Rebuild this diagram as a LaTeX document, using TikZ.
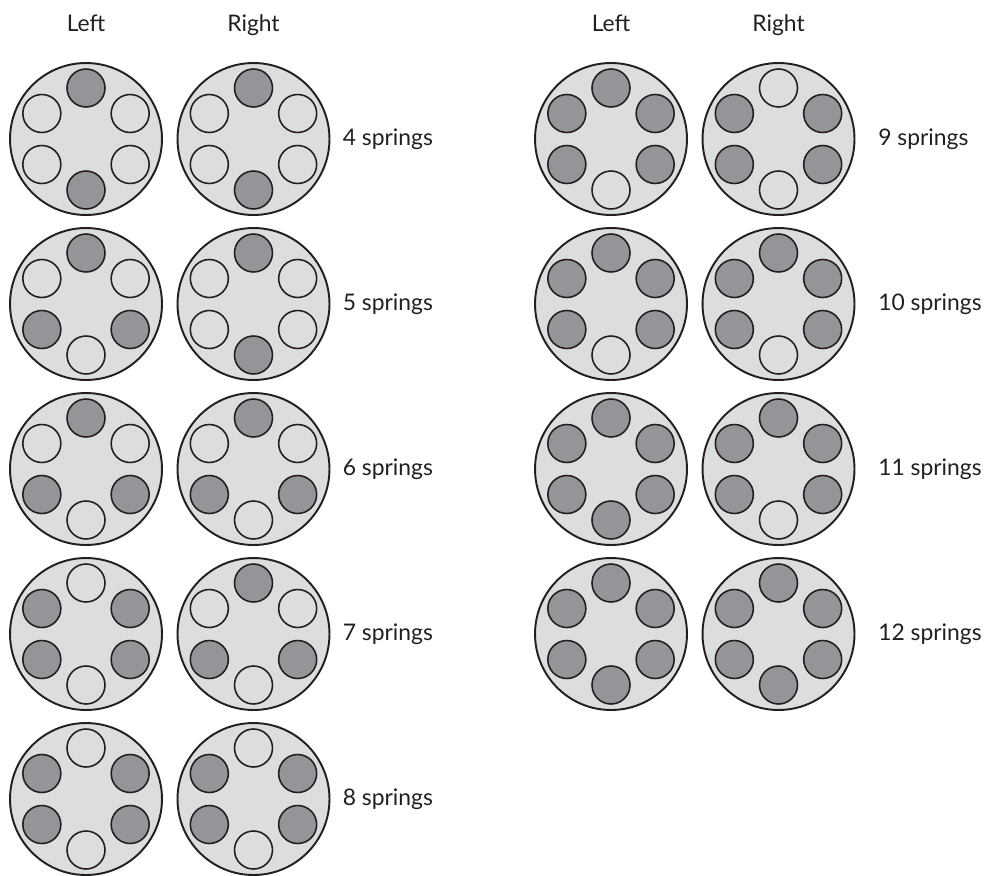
\documentclass[tikz,border=0pt]{standalone}
\usepackage{fontspec}
\setmainfont{Lato}
\usepackage{xcolor}
\usetikzlibrary{positioning}

\definecolor{discgray}{HTML}{DCDDDF}
\definecolor{springdark}{HTML}{939598}
\definecolor{inkline}{HTML}{231F20}
\colorlet{fillD}{springdark}
\colorlet{fillL}{discgray}

\begin{document}
\begin{tikzpicture}[
    x=0.02cm, y=-0.02cm,
    disc/.style={circle, draw=inkline, fill=discgray, line width=1.1pt, minimum size=3.04cm, inner sep=0pt},
    spring/.style={circle, draw=inkline, fill=#1, line width=0.9pt, minimum size=0.76cm, inner sep=0pt},
    head/.style={font=\fontsize{13}{15}\selectfont, text=inkline, inner sep=0pt, anchor=base},
    count/.style={font=\fontsize{13}{15}\selectfont, text=inkline, inner sep=0pt, anchor=west}
]
    \useasboundingbox (0,0) rectangle (986,875);

    % column headings
    \node (headLa) [head] at (86,32) {Left};
    \node (headRa) [head] at (253.5,32) {Right};
    \node (headLb) [head] at (611,32) {Left};
    \node (headRb) [head] at (778.5,32) {Right};

    % spring sets: T, UR, LR, B, LL, UL
    \foreach \n/\xa/\y/\xt/\pl/\pr in {
        4/86/139/342.5/{D,L,L,D,L,L}/{D,L,L,D,L,L},
        5/86/304/342.5/{D,L,D,L,D,L}/{D,L,L,D,L,L},
        6/86/469/342.5/{D,L,D,L,D,L}/{D,L,D,L,D,L},
        7/86/634/342.5/{L,D,D,L,D,D}/{D,L,D,L,D,L},
        8/86/799/342.5/{L,D,D,L,D,D}/{L,D,D,L,D,D},
        9/611/139/878/{D,D,D,L,D,D}/{L,D,D,L,D,D},
        10/611/304/878/{D,D,D,L,D,D}/{D,D,D,L,D,D},
        11/611/469/878/{D,D,D,D,D,D}/{D,D,D,L,D,D},
        12/611/634/878/{D,D,D,D,D,D}/{D,D,D,D,D,D}}
    {
        \node (discL\n) [disc] at (\xa,\y) {};
        \node (discR\n) [disc] at (\xa+167.5,\y) {};
        \foreach \s [count=\k] in \pl
            \node (springL\n-\k) [spring=fill\s] at ([shift={(-150+60*\k:51)}]discL\n.center) {};
        \foreach \s [count=\k] in \pr
            \node (springR\n-\k) [spring=fill\s] at ([shift={(-150+60*\k:51)}]discR\n.center) {};
        \node (count\n) [count] at (\xt,\y) {\n\ springs};
    }
\end{tikzpicture}
\end{document}
